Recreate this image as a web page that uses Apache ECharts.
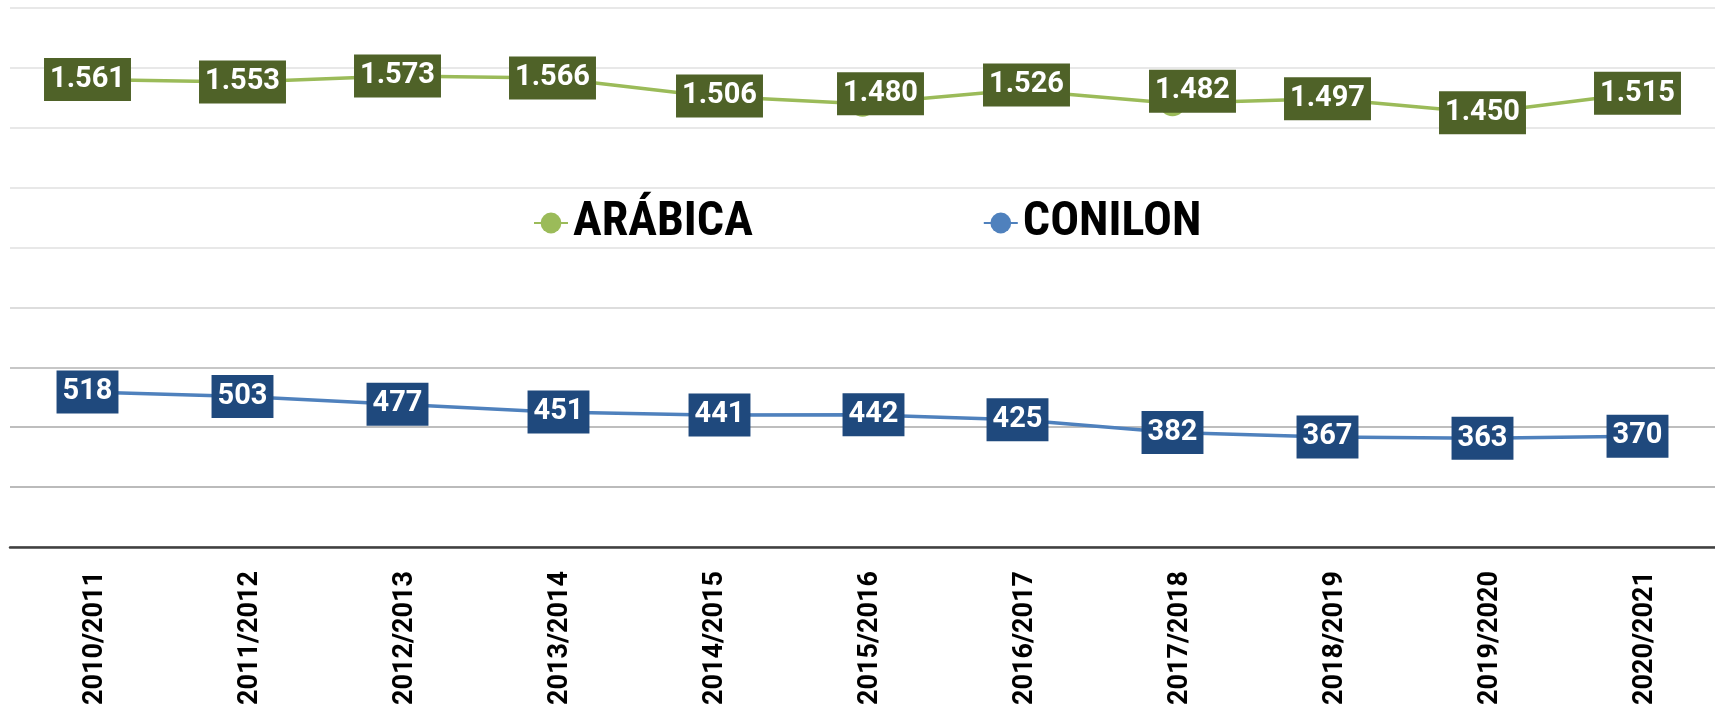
<!DOCTYPE html>
<html>
<head>
<meta charset="utf-8">
<script src="https://cdn.jsdelivr.net/npm/echarts@6/dist/echarts.min.js"></script>
<style>
html,body{margin:0;padding:0;background:#fff;}
#chart{width:1715px;height:709px;}
</style>
</head>
<body>
<div id="chart"></div>
<script>
const categories = ['2010/2011','2011/2012','2012/2013','2013/2014','2014/2015','2015/2016','2016/2017','2017/2018','2018/2019','2019/2020','2020/2021'];
const arabica = [1561,1553,1573,1566,1506,1480,1526,1482,1497,1450,1515];
const conilon = [518,503,477,451,441,442,425,382,367,363,370];
const yTicks = [0,200,400,600,800,1000,1200,1400,1600,1800];

// label nudges (styling only, px)
const arabicaNudge = {4:[12,0],5:[18,-10],6:[9,-5],7:[20,-12]};
const conilonNudge = {3:[6,0],4:[12,0],5:[11,0]};

function fmt(v){
  const s = String(Math.round(v));
  return s.replace(/\B(?=(\d{3})+(?!\d))/g,'.');
}
function build(values, nudge){
  return values.map((v,i)=>{
    const d = {value:v};
    if(nudge[i]) d.label = {offset:nudge[i]};
    return d;
  });
}

const chart = echarts.init(document.getElementById('chart'), null, {renderer:'canvas'});
const labelBase = {
  show:true, position:'inside', formatter:p=>fmt(p.value),
  color:'#fff', fontFamily:'Roboto', fontWeight:'bold', fontSize:29,
  lineHeight:31, padding:[6,6]
};
chart.setOption({
  animation:false,
  backgroundColor:'#fff',
  grid:{left:10, top:8, width:1720, height:539, containLabel:false},
  legend:{
    left:528, top:194, itemWidth:34, itemHeight:26, itemGap:230,
    textStyle:{fontFamily:"'Liberation Sans Narrow','Roboto Condensed','DejaVu Sans Condensed',sans-serif", fontWeight:'bold', fontSize:48, color:'#000', lineHeight:46},
    data:['ARÁBICA','CONILON']
  },
  xAxis:{
    type:'category', data:categories, boundaryGap:true,
    axisLine:{lineStyle:{color:'#404040', width:2.5}},
    axisTick:{show:false},
    axisLabel:{rotate:90, margin:24, color:'#000', fontFamily:'Roboto', fontWeight:'bold', fontSize:27, verticalAlign:'top', lineHeight:16}
  },
  yAxis:{
    type:'value', min:yTicks[0], max:yTicks[yTicks.length-1], interval:yTicks[1]-yTicks[0],
    axisLabel:{show:false}, axisLine:{show:false}, axisTick:{show:false},
    splitLine:{lineStyle:{width:1.5, color:['#a0a0a0','#a4a4a4','#a8a8a8','#b4b4b4','#d2d2d2','#e0e0e0','#e0e0e0','#e0e0e0','#e0e0e0','#e0e0e0']}}
  },
  series:[
    {
      name:'ARÁBICA', type:'line', data:build(arabica, arabicaNudge),
      symbol:'circle', symbolSize:26,
      itemStyle:{color:'#9BBB59'},
      lineStyle:{color:'#9BBB59', width:3.5},
      label:Object.assign({}, labelBase, {backgroundColor:'#4F6228'}),
      z:3
    },
    {
      name:'CONILON', type:'line', data:build(conilon, conilonNudge),
      symbol:'circle', symbolSize:26,
      itemStyle:{color:'#4F81BD'},
      lineStyle:{color:'#4F81BD', width:3.5},
      label:Object.assign({}, labelBase, {backgroundColor:'#1F497D'}),
      z:3
    }
  ]
});
</script>
</body>
</html>
